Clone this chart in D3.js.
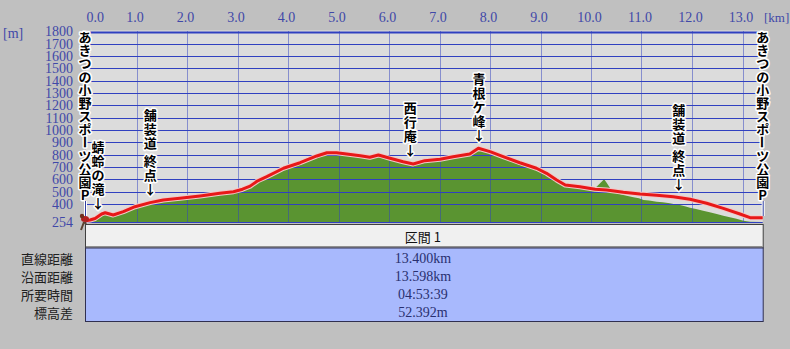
<!DOCTYPE html>
<html>
<head>
<meta charset="utf-8">
<script src="https://cdn.jsdelivr.net/npm/d3@7"></script>
<style>
  body { margin: 0; background: #c0c0c0; }
  svg { display: block; }
</style>
</head>
<body>
<div id="plot"></div>
<script>
// distance ticks along the top (km) and elevation ticks on the left (m)
const kmTicks = [0, 1, 2, 3, 4, 5, 6, 7, 8, 9, 10, 11, 12, 13];
const elevTicks = [1800, 1700, 1600, 1500, 1400, 1300, 1200, 1100, 1000, 900, 800, 700, 600, 500, 400, 254];
const totalKm = 13.4;
const baseElev = 254;

// route profile (red line): distance km / elevation m
const routeKm = [0.00, 0.08, 0.18, 0.31, 0.38, 0.54, 0.74, 0.97, 1.27, 1.53, 1.86, 2.26, 2.65, 2.92, 3.10, 3.25,
  3.40, 3.58, 3.91, 4.24, 4.57, 4.77, 4.96, 5.16, 5.43, 5.62, 5.79, 6.02, 6.28, 6.48, 6.71, 7.01, 7.27, 7.60,
  7.77, 8.00, 8.26, 8.59, 8.92, 9.12, 9.32, 9.49, 9.78, 10.08, 10.31, 10.64, 10.97, 11.30, 11.63, 11.96, 12.29,
  12.62, 12.95, 13.15, 13.40];
const routeElev = [265, 270, 282, 319, 329, 311, 338, 378, 411, 433, 446, 465, 487, 500, 520, 545,
  588, 622, 690, 735, 790, 816, 816, 806, 792, 779, 798, 771, 743, 725, 752, 763, 784, 806,
  852, 825, 784, 735, 690, 649, 595, 554, 540, 519, 514, 495, 481, 471, 459, 438, 406,
  365, 319, 289, 289];

// terrain under the route (green area)
const terrainKm = [0.00, 0.08, 0.18, 0.31, 0.38, 0.54, 0.74, 0.97, 1.27, 1.53, 1.86, 2.26, 2.65, 2.92, 3.10, 3.25,
  3.40, 3.58, 3.91, 4.24, 4.57, 4.77, 4.96, 5.16, 5.43, 5.62, 5.79, 6.02, 6.28, 6.48, 6.71, 6.95, 7.01, 7.27,
  7.60, 7.77, 8.00, 8.26, 8.59, 8.92, 9.12, 9.32, 9.49, 9.78, 9.98, 10.11, 10.21, 10.26, 10.31, 10.38, 10.51,
  10.64, 10.75, 10.84, 10.95, 11.04, 11.15, 11.30, 11.42, 11.56, 11.66, 11.76, 11.86, 11.96, 12.08, 12.22,
  12.35, 12.49, 12.62, 12.75, 12.88, 13.02, 13.15, 13.40];
const terrainElev = [256, 268, 280, 316, 326, 309, 336, 375, 408, 430, 443, 462, 484, 497, 517, 542,
  585, 619, 687, 732, 787, 814, 813, 803, 789, 776, 795, 768, 740, 722, 750, 768, 760, 782,
  803, 848, 822, 781, 732, 685, 642, 585, 545, 535, 519, 540, 581, 600, 573, 527, 487,
  473, 462, 454, 446, 433, 428, 419, 414, 406, 399, 392, 382, 370, 360, 346,
  333, 319, 305, 292, 280, 265, 256, 254];

// place names along the route
const placeKm = [0, 0.24, 1.27, 6.42, 7.78, 11.74, 13.4];
const placeNames = ["あきつの小野スポーツ公園P", "蜻蛉の滝↓", "舗装道 終点↓", "西行庵↓", "青根ケ峰↓", "舗装道 終点↓", "あきつの小野スポーツ公園P"];

// section summary table
const sectionName = "区間 1";
const rowLabels = ["直線距離", "沿面距離", "所要時間", "標高差"];
const rowValues = ["13.400km", "13.598km", "04:53:39", "52.392m"];

const W = 790, H = 349;
const jp = "'Noto Sans CJK JP', sans-serif";
const serif = "'Liberation Serif', serif";

const route = routeKm.map((k, i) => ({ km: k, m: routeElev[i] }));
const terrain = terrainKm.map((k, i) => ({ km: k, m: terrainElev[i] }));

const x = d3.scaleLinear().domain([0, totalKm]).range([86, 762.7]);
const y = d3.scaleLinear().domain([baseElev, 1800]).range([222, 31.5]);

const svg = d3.select("#plot").append("svg")
  .attr("width", W).attr("height", H);

// plot background
svg.append("rect")
  .attr("x", x(0)).attr("y", y(1800) - 1)
  .attr("width", x(totalKm) - x(0)).attr("height", y(baseElev) - y(1800) + 1)
  .attr("fill", "#dcdcdc");

// terrain
svg.append("path")
  .datum(terrain)
  .attr("fill", "#5a9431")
  .attr("d", d3.area().x(d => x(d.km)).y0(y(baseElev)).y1(d => y(d.m)));

// horizontal grid
svg.append("g").selectAll("line")
  .data(elevTicks)
  .join("line")
    .attr("x1", x(0)).attr("x2", x(totalKm))
    .attr("y1", d => Math.round(y(d)) + 0.5).attr("y2", d => Math.round(y(d)) + 0.5)
    .attr("stroke", "#3040c0")
    .attr("stroke-width", d => d === 1800 ? 2 : 1);

// vertical dotted grid
svg.append("g").selectAll("line")
  .data(kmTicks.filter(d => d > 0))
  .join("line")
    .attr("x1", d => Math.round(x(d)) + 0.5).attr("x2", d => Math.round(x(d)) + 0.5)
    .attr("y1", y(1800)).attr("y2", y(baseElev))
    .attr("stroke", "#3040c0")
    .attr("stroke-dasharray", "1,1");

// route line
const line = d3.line().x(d => x(d.km)).y(d => y(d.m));
svg.append("path")
  .datum(route)
  .attr("fill", "none")
  .attr("stroke", "#f2c8c8")
  .attr("stroke-width", 5)
  .attr("stroke-linejoin", "round")
  .attr("d", line);
svg.append("path")
  .datum(route)
  .attr("fill", "none")
  .attr("stroke", "#e81818")
  .attr("stroke-width", 3)
  .attr("stroke-linejoin", "round")
  .attr("d", line);

// top axis
const topAxis = svg.append("g")
  .attr("transform", `translate(-2,22)`)
  .call(d3.axisTop(x).tickValues(kmTicks).tickSize(0).tickPadding(0).tickFormat(d3.format(".1f")));
topAxis.select(".domain").remove();
topAxis.selectAll("text")
  .attr("fill", "#4048a8")
  .style("font", `14px ${serif}`);
topAxis.selectAll("text").filter(d => d === 0).attr("text-anchor", "start").attr("x", 2);

// left axis
const leftAxis = svg.append("g")
  .attr("transform", `translate(${x(0)},0)`)
  .call(d3.axisLeft(y).tickValues(elevTicks).tickSize(0).tickPadding(13).tickFormat(d3.format("d")));
leftAxis.select(".domain").remove();
leftAxis.selectAll("text")
  .attr("fill", "#4048a8")
  .style("font", `14px ${serif}`);

svg.append("text").attr("x", 3).attr("y", 38).text("[m]")
  .attr("fill", "#4048a8").style("font", `14px ${serif}`);
svg.append("text").attr("x", 764).attr("y", 22).text("[km]")
  .attr("fill", "#4048a8").style("font", `13px ${serif}`);

// elevation at a distance along the route
const bis = d3.bisector(d => d.km).left;
function elevAt(k) {
  const i = Math.min(Math.max(bis(route, k), 1), route.length - 1);
  const a = route[i - 1], b = route[i];
  return a.m + (b.m - a.m) * (k - a.km) / (b.km - a.km);
}

// vertical place labels
const step = 14;
placeKm.forEach((k, pi) => {
  const name = placeNames[pi];
  const isEnd = k === 0 || k === totalKm;
  const chars = Array.from(name);
  const g = svg.append("g");
  let ys = [];
  if (isEnd) {
    let yy = y(1800) + 5;
    chars.forEach(c => { ys.push(yy); yy += 13.2; });
  } else {
    let yy = y(elevAt(k)) - 14;
    for (let i = chars.length - 1; i >= 0; i--) {
      if (chars[i] === " ") { yy -= 4; ys[i] = null; continue; }
      ys[i] = yy;
      yy -= step;
    }
  }
  const cx = isEnd ? (k === 0 ? x(0) - 1 : x(totalKm)) : x(k);
  if (isEnd) {
    g.append("line")
      .attr("x1", cx + 0.5).attr("x2", cx + 0.5)
      .attr("y1", ys[ys.length - 1] + 6).attr("y2", y(baseElev) - 6)
      .attr("stroke", "#ffffff").attr("stroke-width", 3);
    g.append("line")
      .attr("x1", cx + 0.5).attr("x2", cx + 0.5)
      .attr("y1", ys[ys.length - 1] + 6).attr("y2", y(baseElev) - 6)
      .attr("stroke", "#3040a0").attr("stroke-width", 1);
  }
  chars.forEach((c, i) => {
    if (ys[i] == null) return;
    const t = g.append("text")
      .attr("x", cx).attr("y", ys[i])
      .attr("text-anchor", "middle")
      .attr("dominant-baseline", "central")
      .attr("fill", "#000")
      .attr("stroke", "#fff").attr("stroke-width", 3)
      .attr("stroke-linejoin", "round")
      .attr("paint-order", "stroke")
      .style("font", `bold 13px ${jp}`)
      .text(c);
    if (c === "ー") t.attr("transform", `rotate(90,${cx},${ys[i]})`);
  });
});

// hiker marker at the start
const hk = svg.append("g").attr("transform", `translate(${x(0) - 1},${y(baseElev)})`);
hk.append("path").attr("d", "M-1,0 L-4,8 M0,0 L3,8").attr("stroke", "#5a4030").attr("stroke-width", 2).attr("fill", "none");
hk.append("ellipse").attr("cx", 0).attr("cy", -3).attr("rx", 4).attr("ry", 3).attr("fill", "#b02020");
hk.append("circle").attr("cx", -3).attr("cy", -6).attr("r", 2.2).attr("fill", "#703020");

// summary table
const tx0 = 85, tx1 = x(totalKm);
const headTop = 224, headBot = 247.5, bodyBot = 321;
svg.append("rect")
  .attr("x", tx0 + 0.5).attr("y", headTop + 0.5)
  .attr("width", tx1 - tx0).attr("height", headBot - headTop)
  .attr("fill", "#f0f0f0").attr("stroke", "#404040");
svg.append("line")
  .attr("x1", tx0 + 1).attr("x2", tx1).attr("y1", headBot - 1).attr("y2", headBot - 1)
  .attr("stroke", "#909090");
svg.append("rect")
  .attr("x", tx0 + 0.5).attr("y", headBot + 0.5)
  .attr("width", tx1 - tx0).attr("height", bodyBot - headBot)
  .attr("fill", "#a8b9fd").attr("stroke", "#303050");

const tcx = (tx0 + tx1) / 2 - 1;
svg.append("text")
  .attr("x", tcx).attr("y", (headTop + headBot) / 2 + 1)
  .attr("text-anchor", "middle").attr("dominant-baseline", "central")
  .attr("fill", "#111")
  .style("font", `13px ${jp}`)
  .text(sectionName);

const rowY = i => 258.5 + i * 18.1;
svg.append("g").selectAll("text")
  .data(rowLabels)
  .join("text")
    .attr("x", 73).attr("y", (d, i) => rowY(i))
    .attr("text-anchor", "end").attr("dominant-baseline", "central")
    .attr("fill", "#202020")
    .style("font", `13px ${jp}`)
    .text(d => d);
svg.append("g").selectAll("text")
  .data(rowValues)
  .join("text")
    .attr("x", tcx).attr("y", (d, i) => rowY(i))
    .attr("text-anchor", "middle").attr("dominant-baseline", "central")
    .attr("fill", "#283070")
    .style("font", `14px ${serif}`)
    .text(d => d);
</script>
</body>
</html>
